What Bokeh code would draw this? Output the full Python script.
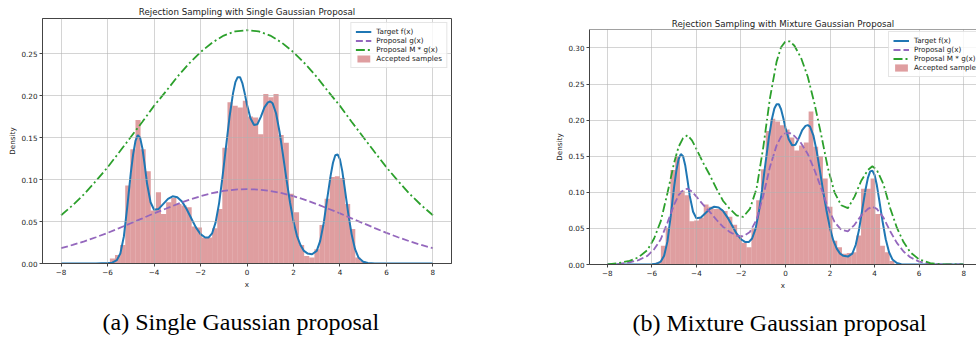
import numpy as np
from bokeh.plotting import figure
from bokeh.models import (Range1d, FixedTicker, Legend, LegendItem, Span, Title,
                          PrintfTickFormatter, LinearAxis)
from bokeh.layouts import row
from bokeh.embed import file_html
from bokeh.resources import INLINE

# ---------------- data ----------------
x_ticks = [-8, -6, -4, -2, 0, 2, 4, 6, 8]
y_ticks_a = [0.0, 0.05, 0.10, 0.15, 0.20, 0.25]
y_ticks_b = [0.0, 0.05, 0.10, 0.15, 0.20, 0.25, 0.30]

title_a = "Rejection Sampling with Single Gaussian Proposal"
title_b = "Rejection Sampling with Mixture Gaussian Proposal"
caption_a = "(a) Single Gaussian proposal"
caption_b = "(b) Mixture Gaussian proposal"
legend_labels = ["Target f(x)", "Proposal g(x)", "Proposal M * g(x)", "Accepted samples"]

# target density f(x) (same in both panels)
target_x = [-8.0, -6.5, -6.0, -5.8, -5.6, -5.45, -5.3, -5.15, -5.0, -4.9, -4.8, -4.7,
            -4.6, -4.5, -4.4, -4.3, -4.15, -4.0, -3.8, -3.6, -3.4, -3.2, -3.0, -2.8,
            -2.6, -2.4, -2.2, -2.0, -1.8, -1.65, -1.5, -1.35, -1.2, -1.05, -0.9, -0.75,
            -0.6, -0.5, -0.4, -0.3, -0.2, -0.1, 0.0, 0.15, 0.3, 0.45, 0.6, 0.75,
            0.9, 1.0, 1.1, 1.25, 1.4, 1.55, 1.7, 1.85, 2.0, 2.15, 2.3, 2.45,
            2.6, 2.8, 3.0, 3.15, 3.3, 3.45, 3.6, 3.7, 3.8, 3.9, 4.0, 4.1,
            4.2, 4.35, 4.5, 4.65, 4.8, 5.0, 5.2, 5.5, 6.5, 8.0]
target_y = [0.0, 0.0, 0.0005, 0.001, 0.004, 0.012, 0.032, 0.068, 0.108, 0.130, 0.146, 0.153,
            0.150, 0.137, 0.117, 0.095, 0.073, 0.064, 0.065, 0.071, 0.077, 0.080, 0.079, 0.074,
            0.065, 0.054, 0.043, 0.035, 0.031, 0.031, 0.036, 0.049, 0.072, 0.104, 0.140, 0.175,
            0.203, 0.216, 0.222, 0.222, 0.215, 0.203, 0.189, 0.173, 0.165, 0.166, 0.175, 0.186,
            0.192, 0.193, 0.191, 0.179, 0.157, 0.129, 0.100, 0.073, 0.050, 0.033, 0.022, 0.015,
            0.012, 0.011, 0.015, 0.027, 0.048, 0.077, 0.105, 0.120, 0.129, 0.130, 0.124, 0.110,
            0.091, 0.061, 0.035, 0.017, 0.007, 0.002, 0.0005, 0.0, 0.0, 0.0]

# panel (a): single Gaussian proposal
ga_x = [-8.0, -7.5, -7.0, -6.5, -6.0, -5.5, -5.0, -4.5, -4.0, -3.5, -3.0, -2.5, -2.0,
        -1.5, -1.0, -0.5, 0.0, 0.5, 1.0, 1.5, 2.0, 2.5, 3.0, 3.5, 4.0, 4.5, 5.0,
        5.5, 6.0, 6.5, 7.0, 7.5, 8.0]
ga_y = [0.0183, 0.0221, 0.0264, 0.0313, 0.0365, 0.0422, 0.0480, 0.0538, 0.0598, 0.0652,
        0.0708, 0.0758, 0.0802, 0.0838, 0.0865, 0.0881, 0.0886, 0.0881, 0.0865, 0.0838,
        0.0802, 0.0758, 0.0708, 0.0652, 0.0598, 0.0538, 0.0480, 0.0422, 0.0365, 0.0313,
        0.0264, 0.0221, 0.0183]
mga_y = [0.0575, 0.0694, 0.0829, 0.0983, 0.1146, 0.1325, 0.1507, 0.1689, 0.1878, 0.2047,
         0.2223, 0.2380, 0.2518, 0.2631, 0.2716, 0.2766, 0.2780, 0.2766, 0.2716, 0.2631,
         0.2518, 0.2380, 0.2223, 0.2047, 0.1878, 0.1689, 0.1507, 0.1325, 0.1146, 0.0983,
         0.0829, 0.0694, 0.0575]
hist_a_start = -5.9
hist_a_width = 0.22
hist_a = [0.006, 0.010, 0.022, 0.093, 0.136, 0.171, 0.136, 0.110, 0.063, 0.085,
          0.059, 0.073, 0.078, 0.071, 0.069, 0.067, 0.044, 0.043, 0.031, 0.031,
          0.042, 0.065, 0.138, 0.192, 0.188, 0.186, 0.194, 0.175, 0.174, 0.154,
          0.202, 0.198, 0.202, 0.153, 0.144, 0.083, 0.061, 0.022, 0.009, 0.007,
          0.017, 0.046, 0.077, 0.103, 0.104, 0.102, 0.071, 0.041, 0.007, 0.003]

# panel (b): mixture Gaussian proposal
gb_x = [-8.0, -7.5, -7.0, -6.6, -6.2, -5.9, -5.6, -5.3, -5.0, -4.8, -4.6, -4.4, -4.2,
        -4.0, -3.7, -3.4, -3.1, -2.8, -2.5, -2.2, -1.9, -1.6, -1.3, -1.0, -0.7, -0.4,
        -0.2, 0.0, 0.2, 0.4, 0.7, 1.0, 1.3, 1.6, 1.9, 2.2, 2.5, 2.8, 3.1,
        3.4, 3.7, 3.9, 4.1, 4.4, 4.7, 5.0, 5.3, 5.6, 6.0, 6.5, 7.0, 8.0]
gb_y = [0.000, 0.001, 0.003, 0.006, 0.012, 0.021, 0.035, 0.058, 0.083, 0.096, 0.103, 0.105, 0.101,
        0.094, 0.083, 0.073, 0.062, 0.052, 0.045, 0.040, 0.039, 0.045, 0.062, 0.095, 0.135, 0.165,
        0.177, 0.182, 0.182, 0.178, 0.168, 0.153, 0.131, 0.106, 0.079, 0.059, 0.048, 0.046, 0.055,
        0.068, 0.077, 0.080, 0.077, 0.065, 0.046, 0.030, 0.018, 0.010, 0.004, 0.001, 0.000, 0.000]
mgb_y = [0.000, 0.002, 0.005, 0.010, 0.020, 0.036, 0.060, 0.099, 0.141, 0.163, 0.175, 0.179, 0.172,
         0.160, 0.141, 0.124, 0.105, 0.088, 0.077, 0.068, 0.066, 0.077, 0.105, 0.162, 0.230, 0.281,
         0.301, 0.309, 0.309, 0.303, 0.286, 0.260, 0.223, 0.180, 0.134, 0.100, 0.082, 0.078, 0.094,
         0.116, 0.131, 0.136, 0.131, 0.111, 0.078, 0.051, 0.031, 0.017, 0.007, 0.002, 0.000, 0.000]
hist_b_start = -5.81
hist_b_width = 0.214
hist_b = [0.003, 0.026, 0.051, 0.131, 0.150, 0.102, 0.096, 0.060, 0.061, 0.065,
          0.083, 0.080, 0.077, 0.077, 0.074, 0.066, 0.055, 0.040, 0.030, 0.024,
          0.050, 0.089, 0.132, 0.185, 0.202, 0.198, 0.193, 0.187, 0.176, 0.158,
          0.165, 0.169, 0.212, 0.163, 0.150, 0.119, 0.080, 0.033, 0.024, 0.015,
          0.016, 0.017, 0.040, 0.105, 0.105, 0.119, 0.070, 0.026, 0.017, 0.005]

# ---------------- styling ----------------
FONT = "DejaVu Sans"
C_BLUE, C_PURPLE, C_GREEN, C_BAR = "#1f77b4", "#9467bd", "#2ca02c", "#c44e52"
DARK = "#444444"


def make_panel(width, height, border_l, border_r, border_t, border_b, xr, yr, yticks,
               title, t_standoff, outline):
    p = figure(width=width, height=height, x_range=Range1d(*xr), y_range=Range1d(*yr),
               output_backend="svg", toolbar_location=None,
               min_border_left=border_l, min_border_right=border_r,
               min_border_top=border_t, min_border_bottom=border_b)
    p.frame_align = False
    p.title.text = title
    p.title.text_font = FONT
    p.title.text_font_size = "8.7px"
    p.title.text_font_style = "normal"
    p.title.text_color = "#222222"
    p.title.align = "center"
    p.title.standoff = t_standoff
    p.outline_line_color = DARK if outline else None
    p.outline_line_width = 1
    p.background_fill_color = "white"
    p.border_fill_color = "white"
    for ax in (p.xaxis[0], p.yaxis[0]):
        ax.axis_line_color = DARK
        ax.major_tick_line_color = DARK
        ax.minor_tick_line_color = None
        ax.major_tick_out = 3
        ax.major_tick_in = 0
        ax.major_label_standoff = 2
        ax.major_label_text_font = FONT
        ax.major_label_text_font_size = "7.2px"
        ax.major_label_text_color = "#222222"
        ax.axis_label_text_font = FONT
        ax.axis_label_text_font_size = "7.2px"
        ax.axis_label_text_font_style = "normal"
        ax.axis_label_text_color = "#222222"
    p.xaxis.ticker = FixedTicker(ticks=x_ticks)
    p.xaxis.major_label_overrides = {t: (str(t).replace("-", "\u2212")) for t in x_ticks}
    p.xaxis.axis_label = "x"
    p.xaxis.axis_label_standoff = 2
    p.yaxis.ticker = FixedTicker(ticks=yticks)
    p.yaxis.formatter = PrintfTickFormatter(format="%.2f")
    p.yaxis.axis_label = "Density"
    p.yaxis.axis_label_standoff = 1
    for g in (p.xgrid[0], p.ygrid[0]):
        g.grid_line_color = "#b0b0b0"
        g.grid_line_alpha = 0.55
        g.grid_line_width = 1
        g.level = "glyph"
    p.xgrid.ticker = FixedTicker(ticks=x_ticks)
    p.ygrid.ticker = FixedTicker(ticks=yticks)
    return p


def add_content(p, start, bw, heights, gx, gy, mgy):
    edges = start + bw * np.arange(len(heights) + 1)
    r_h = p.quad(left=edges[:-1], right=edges[1:], bottom=0, top=heights,
                 fill_color=C_BAR, fill_alpha=0.55, line_color=None, level="underlay")
    r_f = p.line(target_x, target_y, line_color=C_BLUE, line_width=2)
    r_g = p.line(gx, gy, line_color=C_PURPLE, line_width=1.8, line_dash="7 3")
    r_m = p.line(gx, mgy, line_color=C_GREEN, line_width=1.8, line_dash="9 3 2 3")
    return [r_f, r_g, r_m, r_h]


def add_legend(p, rends, location):
    items = [LegendItem(label=lab, renderers=[r]) for lab, r in zip(legend_labels, rends)]
    lg = Legend(items=items, location=location,
                label_text_font=FONT, label_text_font_size="7.2px", label_text_color="#222222",
                glyph_width=16, glyph_height=9, label_height=9, label_standoff=5,
                padding=4, spacing=0, margin=4,
                border_line_color="#cccccc", border_line_width=1,
                background_fill_color="white", background_fill_alpha=0.8)
    p.add_layout(lg)


def add_caption(p, text, gap, offset):
    # invisible spacer axis (one hidden tick, empty label) between the x axis and the caption
    spacer = LinearAxis(ticker=FixedTicker(ticks=[0]), major_tick_out=gap, major_tick_in=0,
                        major_label_standoff=0, major_label_text_font_size="0px",
                        major_label_overrides={0: ""}, axis_line_color=None,
                        major_tick_line_color=None, minor_tick_line_color=None)
    p.add_layout(spacer, "below")
    cap = Title(text=text, align="left", text_font="Liberation Serif",
                text_font_size="24px", text_font_style="normal", text_color="black",
                standoff=0, offset=offset)
    p.add_layout(cap, "below")


# panel (a)
pa = make_panel(500, 339, 42, 49, 18, 76, (-8.8, 8.8), (0, 0.2919), y_ticks_a, title_a, 3, True)
ra = add_content(pa, hist_a_start, hist_a_width, hist_a, ga_x, ga_y, mga_y)
add_legend(pa, ra, "top_right")
add_caption(pa, caption_a, 15, 60)

# panel (b) (its right part is cut by the window)
pb = make_panel(476, 339, 89, 0, 29, 75, (-8.8, 8.575), (0, 0.3255), y_ticks_b, title_b, 2, False)
rb = add_content(pb, hist_b_start, hist_b_width, hist_b, gb_x, gb_y, mgb_y)
add_legend(pb, rb, (299, 187))
pb.add_layout(Span(location=0.3255, dimension="width", line_color=DARK, line_width=1))
add_caption(pb, caption_b, 15, 43)

layout = row(pa, pb, spacing=0)
open("out.html", "w").write(file_html(layout, INLINE))
